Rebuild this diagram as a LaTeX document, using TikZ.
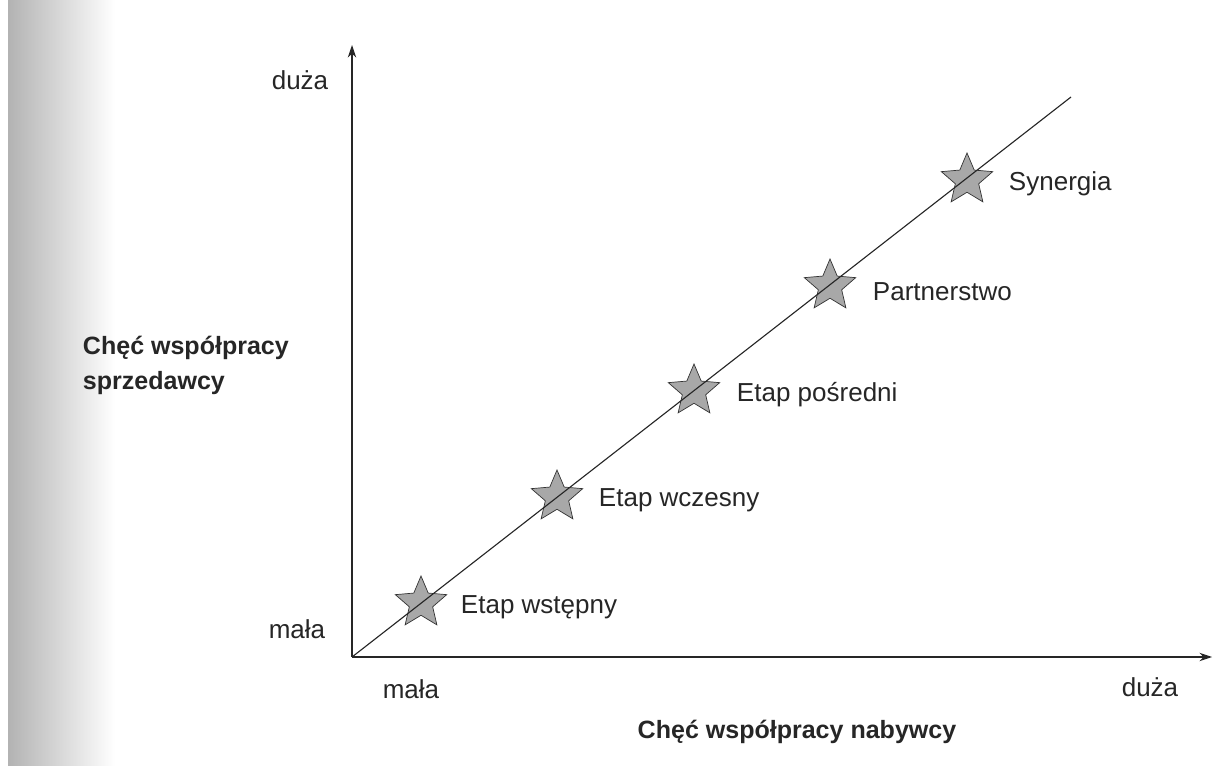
\documentclass[tikz,border=0pt]{standalone}
\usepackage{fontspec}
\setmainfont{Liberation Sans}
\usepackage{xcolor}
\definecolor{stargray}{HTML}{A8A8A8}
\usepackage{tikz}
\usetikzlibrary{positioning,arrows.meta,shapes.geometric}

\begin{document}
\begin{tikzpicture}[x=0.025cm, y=-0.025cm,
    stage/.style={star, star points=5, star point ratio=2.2,
                  minimum size=1.35cm, inner sep=0pt,
                  fill=stargray, draw=black!80, line width=0.5pt},
    axis/.style={draw=black!85, line width=0.8pt, -{Stealth[length=9pt,width=6pt]}},
    label/.style={font=\fontsize{18.5}{22}\selectfont, text=black!85},
    tag/.style={label, anchor=west},
    title/.style={label, font=\fontsize{17.8}{25}\selectfont\bfseries}]
  \useasboundingbox (0,0) rectangle (1214,766);
  % scan shading on the left edge
  \shade[left color=gray!60, right color=white] (8,0) rectangle (115,766);
  \fill[white] (0,0) rectangle (8,766);

  % axes
  \coordinate (O) at (352,657);
  \coordinate (ytop) at (352,45);
  \coordinate (xend) at (1212,657);
  \coordinate (diag) at (1071,97);

  % stages on the diagonal
  \node[stage] (s1) at (421,603) {};
  \node[stage] (s2) at (557,497) {};
  \node[stage] (s3) at (694,391) {};
  \node[stage] (s4) at (830,286) {};
  \node[stage] (s5) at (967,180) {};
  \draw[black!85, line width=0.8pt] (O) -- (diag);
  \draw[axis] (O) -- (ytop);
  \draw[axis] (O) -- (xend);

  \node[tag] (t1) at (456,607) {Etap wstępny};
  \node[tag] (t2) at (594,500) {Etap wczesny};
  \node[tag] (t3) at (732,395) {Etap pośredni};
  \node[tag] (t4) at (868,292) {Partnerstwo};
  \node[tag] (t5) at (1004,184) {Synergia};

  % axis labels
  \node[label] (ybig) at (300,80) {duża};
  \node[label] (ysmall) at (297,629) {mała};
  \node[label] (xsmall) at (411,689) {mała};
  \node[label] (xbig) at (1150,687) {duża};
  \node[title] (xtitle) at (797,732) {Chęć współpracy nabywcy};
  \node[title, align=left, anchor=west] (ytitle) at (78,365) {Chęć współpracy\\sprzedawcy};
\end{tikzpicture}
\end{document}
